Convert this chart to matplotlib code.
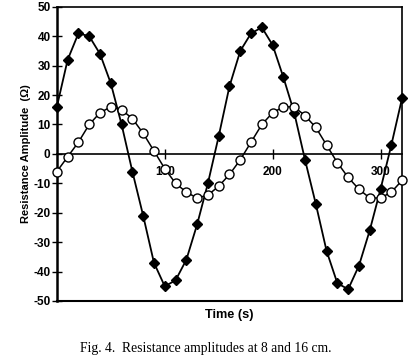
import numpy as np
import matplotlib
matplotlib.use("Agg")
import matplotlib.pyplot as plt

# time axis, samples every 10 s
time_s = [0, 10, 20, 30, 40, 50, 60, 70, 80, 90, 100, 110, 120, 130, 140, 150, 160,
          170, 180, 190, 200, 210, 220, 230, 240, 250, 260, 270, 280, 290, 300, 310, 320]

# filled diamonds
amp_diamond = [16, 32, 41, 40, 34, 24, 10, -6, -21, -37, -45, -43, -36, -24, -10, 6, 23,
               35, 41, 43, 37, 26, 14, -2, -17, -33, -44, -46, -38, -26, -12, 3, 19]

# open circles
amp_circle = [-6, -1, 4, 10, 14, 16, 15, 12, 7, 1, -5, -10, -13, -15, -14, -11, -7,
              -2, 4, 10, 14, 16, 16, 13, 9, 3, -3, -8, -12, -15, -15, -13, -9]

xticks = [100, 200, 300]
yticks = [-50, -40, -30, -20, -10, 0, 10, 20, 30, 40, 50]

plt.rcParams['font.family'] = ['Liberation Sans', 'DejaVu Sans']
plt.rcParams['axes.unicode_minus'] = False

fig = plt.figure(figsize=(4.12, 3.6), dpi=100)
ax = fig.add_axes([0.138, 0.164, 0.838, 0.817])

ax.plot(time_s, amp_diamond, color='black', lw=1.3, marker='D', ms=5.5,
        mfc='black', mec='black', zorder=3, clip_on=False)
ax.plot(time_s, amp_circle, color='black', lw=1.1, marker='o', ms=6.5,
        mfc='white', mec='black', mew=1.0, zorder=4, clip_on=False)

ax.set_xlim(0, 320)
ax.set_ylim(-50, 50)

# x axis sits on the zero line, box closed at the bottom
ax.spines['bottom'].set_position(('data', 0))
ax.spines['bottom'].set_linewidth(1.2)
ax.axhline(-50, color='black', lw=1.5, clip_on=False, zorder=2)
ax.spines['left'].set_linewidth(1.8)
ax.spines['top'].set_linewidth(1.2)
ax.spines['right'].set_linewidth(1.2)

ax.set_xticks(xticks)
ax.set_yticks(yticks)
ax.tick_params(axis='x', direction='inout', length=7, width=1, pad=5, labelsize=8.5)
ax.tick_params(axis='y', direction='inout', length=7, width=1, pad=1, labelsize=8.5)
for lab in ax.get_xticklabels() + ax.get_yticklabels():
    lab.set_fontweight('bold')

ax.set_ylabel('Resistance Amplitude  (Ω)', fontsize=8, fontweight='bold', labelpad=2)
fig.text(0.557, 0.125, 'Time (s)', ha='center', va='center', fontsize=9.2, fontweight='bold')

fig.text(0.5, 0.031, 'Fig. 4.  Resistance amplitudes at 8 and 16 cm.', ha='center', va='center',
         fontsize=9.8, family=['Liberation Serif', 'DejaVu Serif'])

fig.savefig('out.png', dpi=100)
